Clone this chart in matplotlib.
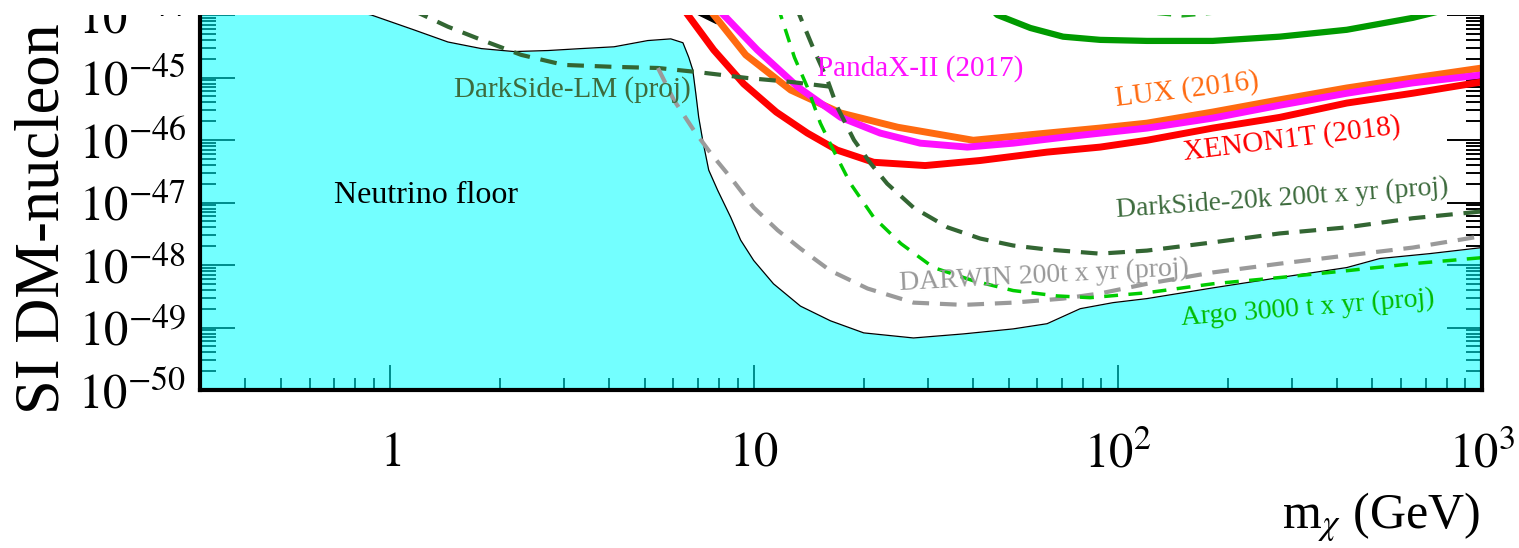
import numpy as np
import matplotlib
matplotlib.use("Agg")
import matplotlib.pyplot as plt
from matplotlib.patches import Rectangle
from matplotlib.ticker import LogLocator, FixedLocator, FixedFormatter, NullFormatter

plt.rcParams['font.family'] = ['Liberation Serif', 'DejaVu Serif']
plt.rcParams['mathtext.fontset'] = 'stix'

# ---- data (m in GeV, sigma in cm^2) ----
floor_m = [0.3, 0.6, 0.887, 1.16, 1.44, 1.78, 2.19, 2.71, 3.34, 4.12, 5.1, 5.9, 6.37, 6.61, 6.78,
           6.91, 7.04, 7.22, 7.5, 7.94, 8.62, 9.18, 9.97, 11.3, 13.4, 16.2, 20, 27.4, 37.6, 51.5,
           63.8, 78.7, 96.9, 120, 182, 278, 425, 524, 718, 1000]
floor_s = [3e-44, 1.6e-44, 1.0e-44, 5.8e-45, 3.7e-45, 2.9e-45, 2.6e-45, 2.7e-45, 2.9e-45, 3.1e-45,
           3.9e-45, 4.15e-45, 3.6e-45, 2.1e-45, 1.32e-45, 5.6e-46, 2.3e-46, 9.9e-47, 3.3e-47,
           1.56e-47, 5.8e-48, 2.5e-48, 1.18e-48, 5.0e-49, 2.2e-49, 1.28e-49, 8.2e-50, 6.8e-50,
           7.9e-50, 9.5e-50, 1.15e-49, 2.0e-49, 2.5e-49, 2.9e-49, 4.3e-49, 6.3e-49, 9.1e-49,
           1.27e-48, 1.52e-48, 1.9e-48]

xenon_m = [6.3, 7.74, 9.36, 11.5, 14.0, 16.9, 21.3, 29.5, 41.8, 63.8, 89.3, 120, 182, 278, 425, 645, 1000]
xenon_s = [1.4e-44, 2.76e-45, 7.9e-46, 2.8e-46, 1.29e-46, 6.9e-47, 4.4e-47, 3.9e-47, 4.7e-47,
           6.4e-47, 7.7e-47, 9.9e-47, 1.55e-46, 2.3e-46, 3.9e-46, 5.6e-46, 8.5e-46]

lux_m = [7.4, 9.48, 12.6, 17.3, 24.8, 40, 63.8, 89, 120, 182, 278, 425, 645, 1000]
lux_s = [1.4e-44, 2.3e-45, 6.3e-46, 2.7e-46, 1.6e-46, 9.9e-47, 1.29e-46, 1.55e-46, 1.86e-46,
         2.8e-46, 4.4e-46, 6.8e-46, 9.8e-46, 1.42e-45]

panda_m = [7.8, 10.2, 13.2, 17.3, 22.2, 28.6, 38.5, 51.5, 78.7, 120, 182, 278, 425, 645, 1000]
panda_s = [1.4e-44, 2.76e-45, 7.0e-46, 2.3e-46, 1.29e-46, 8.9e-47, 7.7e-47, 8.9e-47, 1.19e-46,
           1.55e-46, 2.24e-46, 3.6e-46, 5.6e-46, 8.2e-46, 1.1e-45]

dslm_m = [1.15, 1.44, 1.78, 2.29, 3.0, 4.12, 5.44, 7.0, 9.6, 12.6, 17.3]
dslm_s = [1.2e-44, 6.5e-45, 4.0e-45, 2.3e-45, 1.59e-45, 1.48e-45, 1.42e-45, 1.22e-45, 9.8e-46,
          8.5e-46, 6.8e-46]

ds20k_m = [13.0, 14.6, 15.9, 16.9, 18.8, 20.9, 23.2, 27.4, 34, 41.8, 51.5, 63.8, 89, 120, 182,
           278, 425, 645, 1000]
ds20k_s = [1.4e-44, 2.76e-45, 9.1e-46, 3.4e-46, 1.0e-46, 4.2e-47, 2.0e-47, 8.3e-48, 4.0e-48,
           2.65e-48, 2.05e-48, 1.77e-48, 1.52e-48, 1.7e-48, 2.3e-48, 3.2e-48, 4.0e-48, 5.6e-48, 7.2e-48]

darwin_m = [5.44, 6.01, 6.82, 7.6, 8.62, 9.97, 11.6, 13.4, 16.2, 20.5, 27.4, 37.6, 51.5, 70.6,
            89, 120, 182, 278, 425, 645, 1000]
darwin_s = [1.42e-45, 4.4e-46, 1.44e-46, 6.1e-47, 2.5e-47, 8.3e-48, 3.6e-48, 1.83e-48, 8.1e-49,
            4.2e-49, 2.5e-49, 2.3e-49, 2.5e-49, 2.9e-49, 3.5e-49, 5.0e-49, 7.6e-49, 1.05e-48,
            1.42e-48, 1.9e-48, 2.9e-48]

argo_m = [11.6, 12.9, 14.0, 15.2, 16.5, 18.4, 21.3, 25.3, 31.1, 40, 51.5, 68, 83.8, 120, 182,
          278, 425, 645, 1000]
argo_s = [1.4e-44, 2.1e-45, 7.0e-46, 1.86e-46, 6.9e-47, 2.0e-47, 5.8e-48, 2.2e-48, 9.1e-49,
          5.6e-49, 3.9e-49, 3.2e-49, 3.0e-49, 3.6e-49, 5.0e-49, 6.3e-49, 8.1e-49, 1.05e-48, 1.31e-48]

green_m = [44, 46.6, 57.4, 70.6, 89.3, 120, 182, 278, 425, 645, 789]
green_s = [1.4e-44, 1.0e-44, 6.2e-45, 4.5e-45, 4.0e-45, 3.85e-45, 3.85e-45, 4.5e-45, 5.8e-45,
           9.0e-45, 1.2e-44]

green_dash_m = [110, 150, 210]
green_dash_s = [1.15e-44, 0.97e-44, 1.15e-44]

black_m = [7.1, 7.8]
black_s = [1.1e-44, 8.4e-45]

xticks = [1, 10, 100, 1000]
xtick_labels = ['$1$', '$10$', '$10^{2}$', '$10^{3}$']
yticks = [1e-50, 1e-49, 1e-48, 1e-47, 1e-46, 1e-45, 1e-44]
ytick_labels = ['$10^{-50}$', '$10^{-49}$', '$10^{-48}$', '$10^{-47}$', '$10^{-46}$',
                '$10^{-45}$', '$10^{-44}$']

W, H = 1519, 548
fig = plt.figure(figsize=(W / 100, H / 100), dpi=100)
ax = fig.add_axes([200 / W, (H - 390) / H, 1282 / W, 375 / H])
ax.set_xscale('log')
ax.set_yscale('log')
ax.set_xlim(0.3, 1000)
ax.set_ylim(1e-50, 1e-44)

# neutrino floor
ax.fill_between(floor_m, floor_s, 1e-52, color='#00ffff', alpha=0.55, lw=0, zorder=2.6)
ax.plot(floor_m, floor_s, color='black', lw=0.9, zorder=2.7)

ax.plot(black_m, black_s, color='black', lw=5, zorder=3)
ax.plot(green_m, green_s, color='#009a00', lw=4.5, zorder=3)
ax.plot(green_dash_m, green_dash_s, color='#22aa22', lw=2.5, ls=(0, (4, 3)), zorder=3)
ax.plot(lux_m, lux_s, color='#ff6a10', lw=5, zorder=3.1)
ax.plot(panda_m, panda_s, color='#ff10ff', lw=5, zorder=3.2)
ax.plot(xenon_m, xenon_s, color='#ff0000', lw=5, zorder=3.3)
ax.plot(dslm_m, dslm_s, color='#336633', lw=3, ls=(0, (4, 2.6)), zorder=3.4)
ax.plot(ds20k_m, ds20k_s, color='#336633', lw=3, ls=(0, (4, 2.6)), zorder=3.4)
ax.plot(darwin_m, darwin_s, color='#9a9a9a', lw=3, ls=(0, (4, 2.6)), zorder=3.4)
ax.plot(argo_m, argo_s, color='#00cc00', lw=2.5, ls=(0, (4, 3)), zorder=3.5)

# labels
ax.text(0.70, 1.0e-47, 'Neutrino floor', fontsize=23, color='black', zorder=5)
ax.text(1.5, 4.9e-46, 'DarkSide-LM (proj)', fontsize=21, color='#3d6b3d', zorder=5)
ax.text(14.9, 1.06e-45, 'PandaX-II (2017)', fontsize=21, color='#ff10ff', zorder=5)
ax.text(155, 6.3e-46, 'LUX (2016)', fontsize=21, color='#ff6a10', rotation=7,
        rotation_mode='anchor', ha='center', va='center', zorder=5)
ax.text(300, 1.03e-46, 'XENON1T (2018)', fontsize=21, color='#ff0000', rotation=7,
        rotation_mode='anchor', ha='center', va='center', zorder=5)
ax.text(282, 1.16e-47, 'DarkSide-20k 200t x yr (proj)', fontsize=20, color='#3d6b3d',
        rotation=4, rotation_mode='anchor', ha='center', va='center', zorder=5)
ax.text(62.7, 6.6e-49, 'DARWIN 200t x yr (proj)', fontsize=20, color='#999999',
        rotation=3, rotation_mode='anchor', ha='center', va='center', zorder=5)
ax.text(332, 2.0e-49, 'Argo 3000 t x yr (proj)', fontsize=20, color='#00bb00',
        rotation=4.5, rotation_mode='anchor', ha='center', va='center', zorder=5)

# axes styling (ROOT-like)
ax.xaxis.set_major_locator(FixedLocator(xticks))
ax.xaxis.set_major_formatter(FixedFormatter(xtick_labels))
ax.xaxis.set_minor_locator(LogLocator(base=10, subs=np.arange(2, 10)))
ax.xaxis.set_minor_formatter(NullFormatter())
ax.yaxis.set_major_locator(FixedLocator(yticks))
ax.yaxis.set_major_formatter(FixedFormatter(ytick_labels))
ax.yaxis.set_minor_locator(LogLocator(base=10, subs=np.arange(2, 10), numticks=50))
ax.yaxis.set_minor_formatter(NullFormatter())

ax.tick_params(axis='x', which='major', direction='in', length=18, width=1.4, pad=30,
               labelsize=35, top=False)
ax.tick_params(axis='x', which='minor', direction='in', length=8.6, width=1.4, top=False)
ax.tick_params(axis='y', which='major', direction='in', length=25, width=1.4, pad=10,
               labelsize=35, right=True)
ax.tick_params(axis='y', which='minor', direction='in', length=11.5, width=1.4, right=True)

ax.spines['top'].set_visible(False)
for side in ['left', 'right', 'bottom']:
    ax.spines[side].set_linewidth(3)
    ax.spines[side].set_zorder(4)

fig.text(44 / W, (H - 414) / H, 'SI DM-nucleon', rotation=90, ha='center', va='bottom',
         fontsize=45)
fig.text(1480 / W, (H - 528) / H, r'm$_{\chi}$ (GeV)', ha='right', va='baseline', fontsize=36)

# picture is cut just above 10^-44
fig.patches.append(Rectangle((0, (H - 15) / H), 1, 15 / H, transform=fig.transFigure,
                             facecolor='white', edgecolor='none', zorder=10))

fig.savefig('out.png', dpi=100)
